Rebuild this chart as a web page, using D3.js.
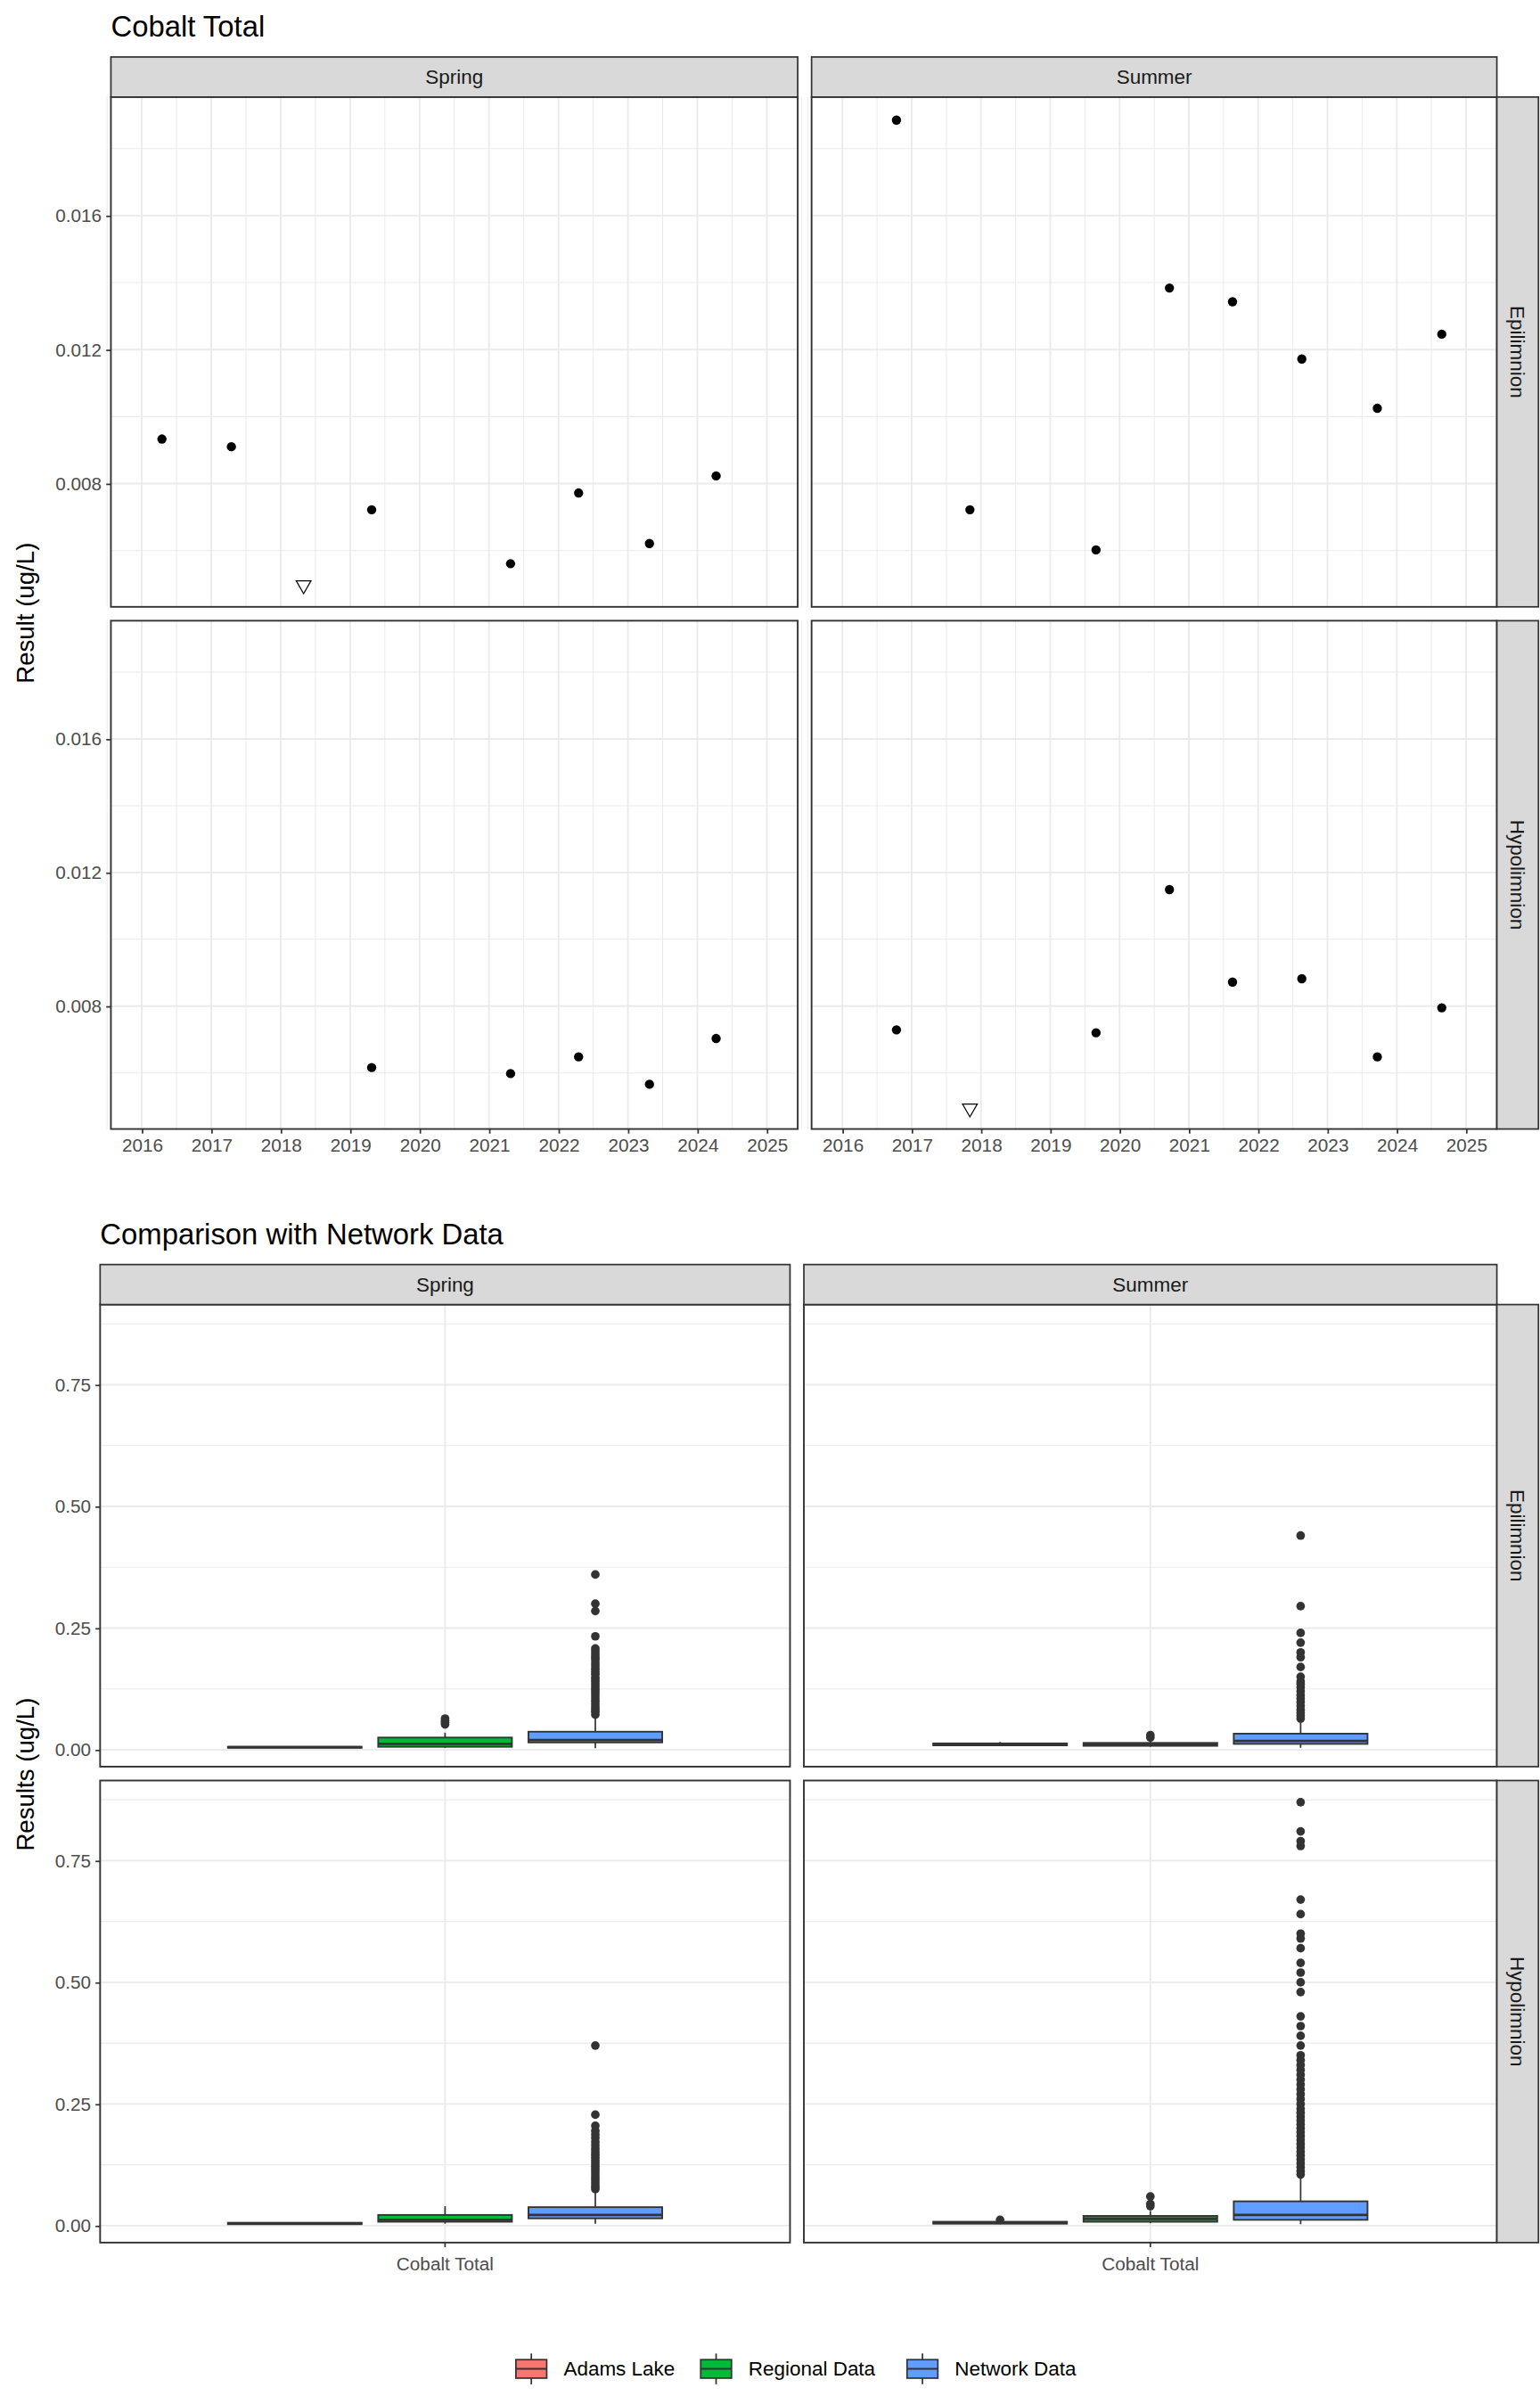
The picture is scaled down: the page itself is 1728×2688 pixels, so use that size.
<!DOCTYPE html>
<html>
<head>
<meta charset="utf-8">
<script src="https://cdn.jsdelivr.net/npm/d3@7"></script>
<style>
  body { margin: 0; background: #fff; }
  text { font-family: "Liberation Sans", Arial, sans-serif; }
</style>
</head>
<body>
<div id="chart"></div>
<script>
// ---- data: time series (year as decimal, value ug/L, detected?) ----
const seasons = ["Spring", "Summer"];
const depths = ["Epilimnion", "Hypolimnion"];
const yearTicks = [2016, 2017, 2018, 2019, 2020, 2021, 2022, 2023, 2024, 2025];
const cobaltTicks = [0.008, 0.012, 0.016];

const springEpi = [
  [2016.29, 0.00933, 1], [2017.29, 0.00910, 1], [2018.33, 0.00497, 0], [2019.31, 0.00722, 1],
  [2021.31, 0.00561, 1], [2022.29, 0.00772, 1], [2023.31, 0.00621, 1], [2024.27, 0.00823, 1]
];
const summerEpi = [
  [2016.78, 0.01885, 1], [2017.84, 0.00722, 1], [2019.66, 0.00602, 1], [2020.72, 0.01384, 1],
  [2021.63, 0.01343, 1], [2022.63, 0.01172, 1], [2023.72, 0.01025, 1], [2024.65, 0.01246, 1]
];
const springHypo = [
  [2019.31, 0.00616, 1], [2021.31, 0.00598, 1], [2022.29, 0.00648, 1], [2023.31, 0.00566, 1],
  [2024.27, 0.00703, 1]
];
const summerHypo = [
  [2016.78, 0.00729, 1], [2017.84, 0.00494, 0], [2019.66, 0.00720, 1], [2020.72, 0.01149, 1],
  [2021.63, 0.00872, 1], [2022.63, 0.00882, 1], [2023.72, 0.00648, 1], [2024.65, 0.00795, 1]
];

// ---- data: comparison boxplots [lowWhisker, q1, median, q3, highWhisker] + outliers ----
const groups = ["Adams Lake", "Regional Data", "Network Data"];
const groupColors = ["#F8766D", "#00BA38", "#619CFF"];
const resultTicks = [0, 0.25, 0.5, 0.75];

const boxSpringEpi = [
  { stats: [0.003, 0.004, 0.005, 0.006, 0.007], out: [] },
  { stats: [0.004, 0.006, 0.012, 0.025, 0.035], out: [0.052, 0.056, 0.060, 0.064] },
  { stats: [0.003, 0.015, 0.020, 0.037, 0.068], out: [0.072, 0.078, 0.083, 0.088, 0.094, 0.10, 0.106, 0.112, 0.118, 0.124, 0.13, 0.136, 0.142, 0.148, 0.155, 0.16, 0.166, 0.172, 0.178, 0.185, 0.19, 0.196, 0.202, 0.208, 0.233, 0.285, 0.30, 0.36] }
];
const boxSummerEpi = [
  { stats: [0.008, 0.009, 0.011, 0.013, 0.016], out: [] },
  { stats: [0.006, 0.008, 0.010, 0.014, 0.020], out: [0.025, 0.030] },
  { stats: [0.004, 0.012, 0.018, 0.033, 0.060], out: [0.064, 0.07, 0.076, 0.082, 0.09, 0.098, 0.105, 0.112, 0.12, 0.128, 0.135, 0.14, 0.15, 0.17, 0.19, 0.20, 0.22, 0.24, 0.295, 0.44] }
];
const boxSpringHypo = [
  { stats: [0.002, 0.003, 0.004, 0.006, 0.007], out: [] },
  { stats: [0.004, 0.008, 0.012, 0.022, 0.040], out: [] },
  { stats: [0.004, 0.015, 0.022, 0.038, 0.070], out: [0.075, 0.08, 0.086, 0.092, 0.098, 0.104, 0.11, 0.116, 0.122, 0.128, 0.134, 0.14, 0.146, 0.152, 0.158, 0.165, 0.172, 0.18, 0.187, 0.195, 0.205, 0.228, 0.37] }
];
const boxSummerHypo = [
  { stats: [0.003, 0.004, 0.006, 0.008, 0.010], out: [0.012] },
  { stats: [0.005, 0.008, 0.014, 0.020, 0.030], out: [0.040, 0.045, 0.060] },
  { stats: [0.003, 0.012, 0.022, 0.050, 0.098], out: [0.105, 0.112, 0.12, 0.128, 0.136, 0.144, 0.152, 0.16, 0.168, 0.176, 0.184, 0.192, 0.2, 0.208, 0.216, 0.224, 0.232, 0.24, 0.25, 0.26, 0.27, 0.28, 0.29, 0.30, 0.31, 0.32, 0.33, 0.34, 0.35, 0.37, 0.39, 0.41, 0.43, 0.48, 0.50, 0.52, 0.54, 0.57, 0.59, 0.60, 0.64, 0.67, 0.78, 0.79, 0.81, 0.87] }
];

const seriesPanels = [[springEpi, summerEpi], [springHypo, summerHypo]];
const boxPanels = [[boxSpringEpi, boxSummerEpi], [boxSpringHypo, boxSummerHypo]];

// ---- layout (drawn in 1000-wide units, scaled to the page) ----
const W = 1000, H = 1555.6;
const svg = d3.select("#chart").append("svg")
  .attr("width", 1728).attr("height", 2688)
  .attr("viewBox", [0, 0, W, H]);

const dark = "#333333", grid = "#EBEBEB", stripFill = "#D9D9D9";

function facetFrame(g, x0, cols, rows, stripTop, stripH, rightStripW) {
  // column strips
  cols.forEach((c, i) => {
    g.append("rect").attr("x", c[0]).attr("y", stripTop).attr("width", c[1] - c[0]).attr("height", stripH)
      .attr("fill", stripFill).attr("stroke", dark).attr("stroke-width", 1);
    g.append("text").attr("x", (c[0] + c[1]) / 2).attr("y", stripTop + stripH / 2).attr("dy", "0.35em")
      .attr("text-anchor", "middle").attr("font-size", 13).attr("fill", "#1A1A1A").text(seasons[i]);
  });
  rows.forEach((r, j) => {
    const sx = cols[1][1];
    g.append("rect").attr("x", sx).attr("y", r[0]).attr("width", rightStripW).attr("height", r[1] - r[0])
      .attr("fill", stripFill).attr("stroke", dark).attr("stroke-width", 1);
    g.append("text").attr("transform", `translate(${sx + rightStripW / 2},${(r[0] + r[1]) / 2}) rotate(90)`)
      .attr("dy", "0.35em").attr("text-anchor", "middle").attr("font-size", 13).attr("fill", "#1A1A1A")
      .text(depths[j]);
  });
}

// ================= Top chart: Cobalt Total time series =================
{
  const g = svg.append("g");
  const cols = [[72, 518], [527, 972]];
  const rows = [[63, 394], [403, 733]];
  g.append("text").attr("x", 72).attr("y", 24).attr("font-size", 19).text("Cobalt Total");

  const yFor = r => d3.scaleLinear().domain([0.00432, 0.01954]).range([r[1], r[0]]);
  const xFor = c => d3.scaleLinear().domain([2015.555, 2025.445]).range([c[0], c[1]]);

  rows.forEach((r, j) => cols.forEach((c, i) => {
    const x = xFor(c), y = yFor(r);
    const p = g.append("g");
    p.append("rect").attr("x", c[0]).attr("y", r[0]).attr("width", c[1] - c[0]).attr("height", r[1] - r[0]).attr("fill", "#fff");
    const minorX = d3.range(2015.5, 2025.6, 1), minorY = [0.006, 0.010, 0.014, 0.018];
    p.selectAll(".mx").data(minorX).join("line").attr("x1", x).attr("x2", x).attr("y1", r[0]).attr("y2", r[1])
      .attr("stroke", grid).attr("stroke-width", 0.6);
    p.selectAll(".my").data(minorY).join("line").attr("y1", y).attr("y2", y).attr("x1", c[0]).attr("x2", c[1])
      .attr("stroke", grid).attr("stroke-width", 0.6);
    p.selectAll(".gx").data(yearTicks).join("line").attr("x1", x).attr("x2", x).attr("y1", r[0]).attr("y2", r[1])
      .attr("stroke", grid).attr("stroke-width", 1.1);
    p.selectAll(".gy").data(cobaltTicks).join("line").attr("y1", y).attr("y2", y).attr("x1", c[0]).attr("x2", c[1])
      .attr("stroke", grid).attr("stroke-width", 1.1);

    const pts = seriesPanels[j][i];
    p.selectAll(".pt").data(pts.filter(d => d[2])).join("circle")
      .attr("cx", d => x(d[0])).attr("cy", d => y(d[1])).attr("r", 3).attr("fill", "#000");
    const tri = d3.symbol().type(d3.symbolTriangle).size(40);
    p.selectAll(".nd").data(pts.filter(d => !d[2])).join("path")
      .attr("d", tri).attr("transform", d => `translate(${x(d[0])},${y(d[1])}) rotate(180)`)
      .attr("fill", "none").attr("stroke", "#000").attr("stroke-width", 0.7);

    p.append("rect").attr("x", c[0]).attr("y", r[0]).attr("width", c[1] - c[0]).attr("height", r[1] - r[0])
      .attr("fill", "none").attr("stroke", dark).attr("stroke-width", 1.1);

    if (i === 0) {
      const ax = g.append("g").attr("transform", `translate(${c[0]},0)`)
        .call(d3.axisLeft(y).tickValues(cobaltTicks).tickFormat(d3.format(".3f")).tickSize(3).tickPadding(3));
      ax.select(".domain").remove();
      ax.selectAll("line").attr("stroke", dark);
      ax.selectAll("text").attr("font-size", 12).attr("fill", "#4D4D4D").attr("font-family", "Liberation Sans, Arial, sans-serif");
    }
    if (j === 1) {
      const ax = g.append("g").attr("transform", `translate(0,${r[1]})`)
        .call(d3.axisBottom(x).tickValues(yearTicks).tickFormat(d3.format("d")).tickSize(3).tickPadding(3));
      ax.select(".domain").remove();
      ax.selectAll("line").attr("stroke", dark);
      ax.selectAll("text").attr("font-size", 12).attr("fill", "#4D4D4D").attr("font-family", "Liberation Sans, Arial, sans-serif");
    }
  }));
  facetFrame(g, 72, cols, rows, 37, 26, 27);
  g.append("text").attr("transform", `translate(22,398) rotate(-90)`).attr("text-anchor", "middle")
    .attr("font-size", 16).text("Result (ug/L)");
}

// ================= Bottom chart: comparison boxplots =================
{
  const g = svg.append("g");
  const cols = [[65, 513], [522, 972]];
  const rows = [[847, 1147], [1156, 1456]];
  g.append("text").attr("x", 65).attr("y", 808).attr("font-size", 19).text("Comparison with Network Data");

  const yFor = r => d3.scaleLinear().domain([-0.0348, 0.9146]).range([r[1], r[0]]);

  rows.forEach((r, j) => cols.forEach((c, i) => {
    const y = yFor(r);
    const mid = (c[0] + c[1]) / 2;
    const band = d3.scaleBand().domain(groups).range([mid - 141, mid + 141]).paddingInner(0.11);
    const p = g.append("g");
    p.append("rect").attr("x", c[0]).attr("y", r[0]).attr("width", c[1] - c[0]).attr("height", r[1] - r[0]).attr("fill", "#fff");
    p.selectAll(".my").data([0.125, 0.375, 0.625, 0.875]).join("line").attr("y1", y).attr("y2", y)
      .attr("x1", c[0]).attr("x2", c[1]).attr("stroke", grid).attr("stroke-width", 0.6);
    p.selectAll(".gy").data(resultTicks).join("line").attr("y1", y).attr("y2", y)
      .attr("x1", c[0]).attr("x2", c[1]).attr("stroke", grid).attr("stroke-width", 1.1);
    p.append("line").attr("x1", mid).attr("x2", mid).attr("y1", r[0]).attr("y2", r[1])
      .attr("stroke", grid).attr("stroke-width", 1.1);

    boxPanels[j][i].forEach((b, k) => {
      const bx = band(groups[k]), bw = band.bandwidth(), cx = bx + bw / 2;
      const [lo, q1, md, q3, hi] = b.stats;
      p.append("line").attr("x1", cx).attr("x2", cx).attr("y1", y(q3)).attr("y2", y(hi)).attr("stroke", dark);
      p.append("line").attr("x1", cx).attr("x2", cx).attr("y1", y(q1)).attr("y2", y(lo)).attr("stroke", dark);
      p.append("rect").attr("x", bx).attr("y", y(q3)).attr("width", bw).attr("height", Math.max(0.5, y(q1) - y(q3)))
        .attr("fill", groupColors[k]).attr("stroke", dark).attr("stroke-width", 1.1);
      p.append("line").attr("x1", bx).attr("x2", bx + bw).attr("y1", y(md)).attr("y2", y(md))
        .attr("stroke", dark).attr("stroke-width", 1.6);
      p.selectAll(null).data(b.out).join("circle").attr("cx", cx).attr("cy", d => y(d)).attr("r", 2.8).attr("fill", dark);
    });

    p.append("rect").attr("x", c[0]).attr("y", r[0]).attr("width", c[1] - c[0]).attr("height", r[1] - r[0])
      .attr("fill", "none").attr("stroke", dark).attr("stroke-width", 1.1);

    if (i === 0) {
      const ax = g.append("g").attr("transform", `translate(${c[0]},0)`)
        .call(d3.axisLeft(y).tickValues(resultTicks).tickFormat(d3.format(".2f")).tickSize(3).tickPadding(3));
      ax.select(".domain").remove();
      ax.selectAll("line").attr("stroke", dark);
      ax.selectAll("text").attr("font-size", 12).attr("fill", "#4D4D4D").attr("font-family", "Liberation Sans, Arial, sans-serif");
    }
    if (j === 1) {
      g.append("line").attr("x1", mid).attr("x2", mid).attr("y1", r[1]).attr("y2", r[1] + 3).attr("stroke", dark);
      g.append("text").attr("x", mid).attr("y", r[1] + 14).attr("dy", "0.35em").attr("text-anchor", "middle")
        .attr("font-size", 12).attr("fill", "#4D4D4D").text("Cobalt Total");
    }
  }));
  facetFrame(g, 65, cols, rows, 821, 26, 27);
  g.append("text").attr("transform", `translate(22,1152) rotate(-90)`).attr("text-anchor", "middle")
    .attr("font-size", 16).text("Results (ug/L)");

  // legend
  const legX = [335, 455, 589];
  groups.forEach((gr, k) => {
    const lg = g.append("g").attr("transform", `translate(${legX[k]},1538)`);
    lg.append("line").attr("x1", 10).attr("x2", 10).attr("y1", -10).attr("y2", 10).attr("stroke", dark);
    lg.append("rect").attr("x", 0).attr("y", -6).attr("width", 20).attr("height", 12)
      .attr("fill", groupColors[k]).attr("stroke", dark).attr("stroke-width", 1);
    lg.append("line").attr("x1", 0).attr("x2", 20).attr("y1", 0).attr("y2", 0).attr("stroke", dark).attr("stroke-width", 1.2);
    lg.append("text").attr("x", 31).attr("y", 0).attr("dy", "0.35em").attr("font-size", 13).text(gr);
  });
}
</script>
</body>
</html>
